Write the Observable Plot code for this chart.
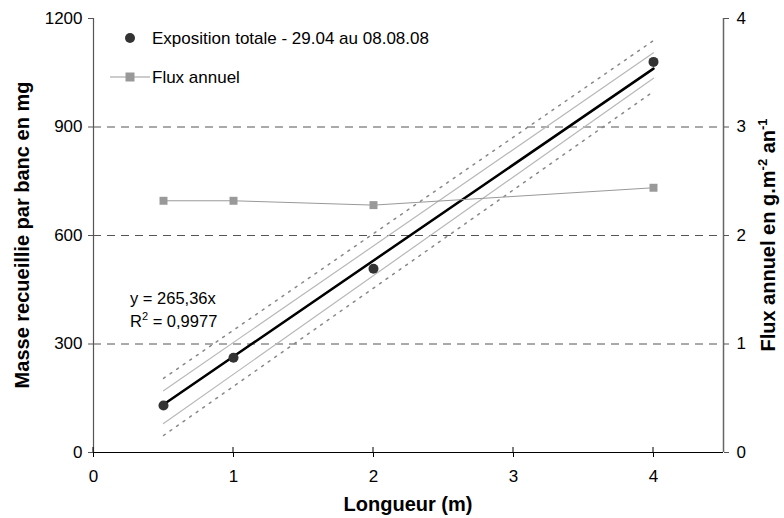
<!DOCTYPE html>
<html><head><meta charset="utf-8">
<script src="https://cdn.jsdelivr.net/npm/d3@7"></script>
<script src="https://cdn.jsdelivr.net/npm/@observablehq/plot@0.6"></script>
<style>body{margin:0;background:#fff;font-family:"Liberation Sans",Arial,sans-serif}</style>
</head><body><div id="chart"></div>
<script>
// Data
const longueur = [0.5, 1, 2, 4];
const masse = [130, 262, 508, 1080];
const flux = [2.32, 2.32, 2.28, 2.44];
const fitX = [0.5, 4];
const fitY = [132.7, 1061.4];
const bandUpper = [171, 1105];
const bandLower = [80, 1035];
const predUpper = [205, 1139];
const predLower = [47, 998];
const xTicks = [0, 1, 2, 3, 4];
const yTicks = [0, 300, 600, 900, 1200];
const rightTicks = [0, 1, 2, 3, 4];
const gridTicks = [300, 600, 900];
const fluxScale = 300; // 1 unit of flux = 300 mg on left scale

const pts = longueur.map((x, i) => ({x, y: masse[i]}));
const fluxPts = longueur.map((x, i) => ({x, y: flux[i] * fluxScale}));
const mk = ys => fitX.map((x, i) => ({x, y: ys[i]}));

const FF = '"Liberation Sans", Arial, sans-serif';
const chart = Plot.plot({
  width: 784, height: 518,
  marginLeft: 93, marginRight: 61, marginTop: 18, marginBottom: 66,
  style: {fontFamily: FF, fontSize: "17px", color: "#000", background: "#fff"},
  x: {domain: [0, 4.5]},
  y: {domain: [0, 1200]},
  marks: [
    Plot.ruleY(gridTicks, {stroke: "#555", strokeWidth: 1, strokeDasharray: "8,6"}),
    Plot.line(mk(predUpper), {x: "x", y: "y", stroke: "#888", strokeWidth: 1.5, strokeDasharray: "2,6"}),
    Plot.line(mk(predLower), {x: "x", y: "y", stroke: "#888", strokeWidth: 1.5, strokeDasharray: "2,6"}),
    Plot.line(mk(bandUpper), {x: "x", y: "y", stroke: "#b8b8b8", strokeWidth: 1.2}),
    Plot.line(mk(bandLower), {x: "x", y: "y", stroke: "#b8b8b8", strokeWidth: 1.2}),
    Plot.line(mk(fitY), {x: "x", y: "y", stroke: "#000", strokeWidth: 2.5}),
    Plot.line(fluxPts, {x: "x", y: "y", stroke: "#999", strokeWidth: 1}),
    Plot.dot(fluxPts, {x: "x", y: "y", symbol: "square", fill: "#999", r: 4.5}),
    Plot.dot(pts, {x: "x", y: "y", fill: "#333", r: 5}),
    Plot.ruleX([0], {stroke: "#555", strokeWidth: 1.2}),
    Plot.ruleX([4.5], {stroke: "#666", strokeWidth: 1.5}),
    Plot.ruleY([0], {stroke: "#000", strokeWidth: 1.2}),
    Plot.axisY({anchor: "left", ticks: yTicks, tickFormat: d => String(d), tickSize: 5, tickPadding: 6, fontSize: 17, label: null, stroke: "#555"}),
    Plot.axisY({anchor: "right", ticks: rightTicks.map(d => d * fluxScale), tickFormat: d => String(d / fluxScale), tickSize: 5, tickPadding: 8, fontSize: 17, label: null, stroke: "#555"}),
    Plot.axisX({ticks: xTicks, tickFormat: d => String(d), tickSize: 5, tickPadding: 12, fontSize: 17, label: null})
  ]
});
document.getElementById("chart").appendChild(chart);

const svg = d3.select(chart);
const sx = chart.scale("x"), sy = chart.scale("y");
// upward part of x ticks
xTicks.forEach(v => {
  svg.append("line").attr("x1", sx.apply(v)).attr("x2", sx.apply(v))
    .attr("y1", sy.apply(0)).attr("y2", sy.apply(0) - 5).attr("stroke", "#000");
});
const txt = (sel, size, weight) => sel.style("font-family", FF).style("font-size", size + "px")
  .style("font-weight", weight || "normal").attr("fill", "#000");
// axis titles
txt(svg.append("text").attr("x", 408).attr("y", 511).attr("text-anchor", "middle"), 20, "bold").text("Longueur (m)");
txt(svg.append("text").attr("transform", "translate(29,235) rotate(-90)").attr("text-anchor", "middle"), 20, "bold")
  .text("Masse recueillie par banc en mg");
const rt = txt(svg.append("text").attr("transform", "translate(775,235) rotate(-90)").attr("text-anchor", "middle"), 20, "bold");
rt.append("tspan").text("Flux annuel en g.m");
rt.append("tspan").attr("dy", -8).style("font-size", "13px").text("-2");
rt.append("tspan").attr("dy", 8).text(" an");
rt.append("tspan").attr("dy", -8).style("font-size", "13px").text("-1");
// legend
const lg = svg.append("g");
lg.append("circle").attr("cx", 130).attr("cy", 38).attr("r", 5).attr("fill", "#333");
txt(lg.append("text").attr("x", 152).attr("y", 44).attr("text-anchor", "start"), 17).text("Exposition totale - 29.04 au 08.08.08");
lg.append("line").attr("x1", 110).attr("x2", 150).attr("y1", 77).attr("y2", 77).attr("stroke", "#999");
lg.append("rect").attr("x", 125.5).attr("y", 72.5).attr("width", 9).attr("height", 9).attr("fill", "#999");
txt(lg.append("text").attr("x", 152).attr("y", 83).attr("text-anchor", "start"), 17).text("Flux annuel");
// equation
const eq = svg.append("g");
txt(eq.append("text").attr("x", 130).attr("y", 304).attr("text-anchor", "start"), 16.5).text("y = 265,36x");
const r2 = txt(eq.append("text").attr("x", 130).attr("y", 327).attr("text-anchor", "start"), 16.5);
r2.append("tspan").text("R");
r2.append("tspan").attr("dy", -7).style("font-size", "11px").text("2");
r2.append("tspan").attr("dy", 7).text(" = 0,9977");
</script></body></html>
